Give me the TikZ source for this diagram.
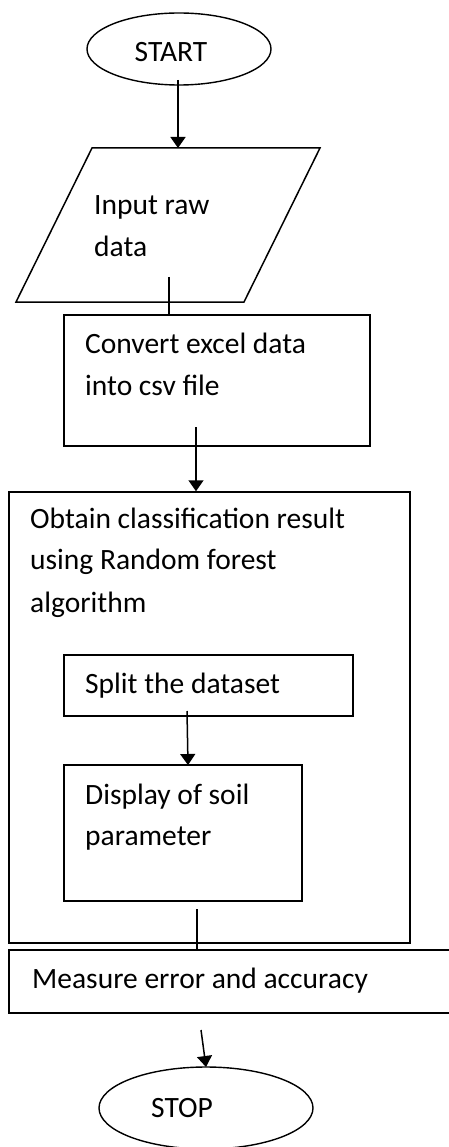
\documentclass[tikz,border=0pt]{standalone}
\usepackage{fontspec}
\setmainfont{Carlito}
\usetikzlibrary{arrows.meta,shapes.geometric}
\begin{document}
\begin{tikzpicture}[x=1pt,y=-1pt,
  box/.style={draw, rectangle, line width=1.5pt, inner sep=0pt},
  term/.style={draw, ellipse, line width=1.4pt, inner sep=0pt},
  lbl/.style={anchor=base west, inner sep=0pt, font=\fontsize{29.5}{41}\selectfont},
  flow/.style={line width=1.5pt},
  arr/.style={flow, -{Triangle[width=15pt,length=11pt]}}]
\useasboundingbox (0,0) rectangle (449,1147);

% terminals
\node[term, minimum width=184pt, minimum height=72pt] (start) at (179,49) {};
\node[lbl, anchor=base] (starttxt) at (171,62) {START};
\node[term, minimum width=214pt, minimum height=82pt] (stop) at (206,1108) {};
\node[lbl, anchor=base] (stoptxt) at (182,1117) {STOP};

% input parallelogram
\coordinate (pA) at (92,148);
\coordinate (pB) at (320,148);
\coordinate (pC) at (244,302);
\coordinate (pD) at (16,302);
\draw[line width=1.5pt] (pA) -- (pB) -- (pC) -- (pD) -- cycle;
\node[lbl] (inptxt1) at (94,215) {Input raw};
\node[lbl] (inptxt2) at (94,257) {data};

% process boxes
\node[box, minimum width=306pt, minimum height=131pt] (conv) at (217,380.5) {};
\node[lbl] (convtxt1) at (85,353) {Convert excel data};
\node[lbl] (convtxt2) at (85,395) {into csv file};

\node[box, minimum width=401pt, minimum height=451pt] (rf) at (209.5,717.5) {};
\node[lbl] (rftxt1) at (30,528) {Obtain classification result};
\node[lbl] (rftxt2) at (30,569) {using Random forest};
\node[lbl] (rftxt3) at (30,612) {algorithm};

\node[box, minimum width=289pt, minimum height=61pt] (split) at (208.5,685.5) {};
\node[lbl] (splittxt) at (85,693) {Split the dataset};

\node[box, minimum width=238pt, minimum height=136pt] (disp) at (183,833) {};
\node[lbl] (disptxt1) at (85,804) {Display of soil};
\node[lbl] (disptxt2) at (85,845) {parameter};

\node[box, minimum width=446pt, minimum height=63pt] (meas) at (232,981.5) {};
\node[lbl] (meastxt) at (32,988) {Measure error and accuracy};

% connectors
\coordinate (c1) at (178,80);
\coordinate (c1e) at (178,148);
\draw[arr] (c1) -- (c1e);

\coordinate (c2) at (169,277);
\draw[flow] (c2) -- (conv.north -| c2);

\coordinate (c3) at (196,427);
\draw[arr] (c3) -- (rf.north -| c3);

\coordinate (c4) at (187,711);
\coordinate (c4e) at (188,765);
\draw[arr] (c4) -- (c4e);

\coordinate (c5) at (197,909);
\draw[flow] (c5) -- (meas.north -| c5);

\coordinate (c6) at (201,1030);
\coordinate (c6e) at (206,1067);
\draw[arr] (c6) -- (c6e);
\end{tikzpicture}
\end{document}
